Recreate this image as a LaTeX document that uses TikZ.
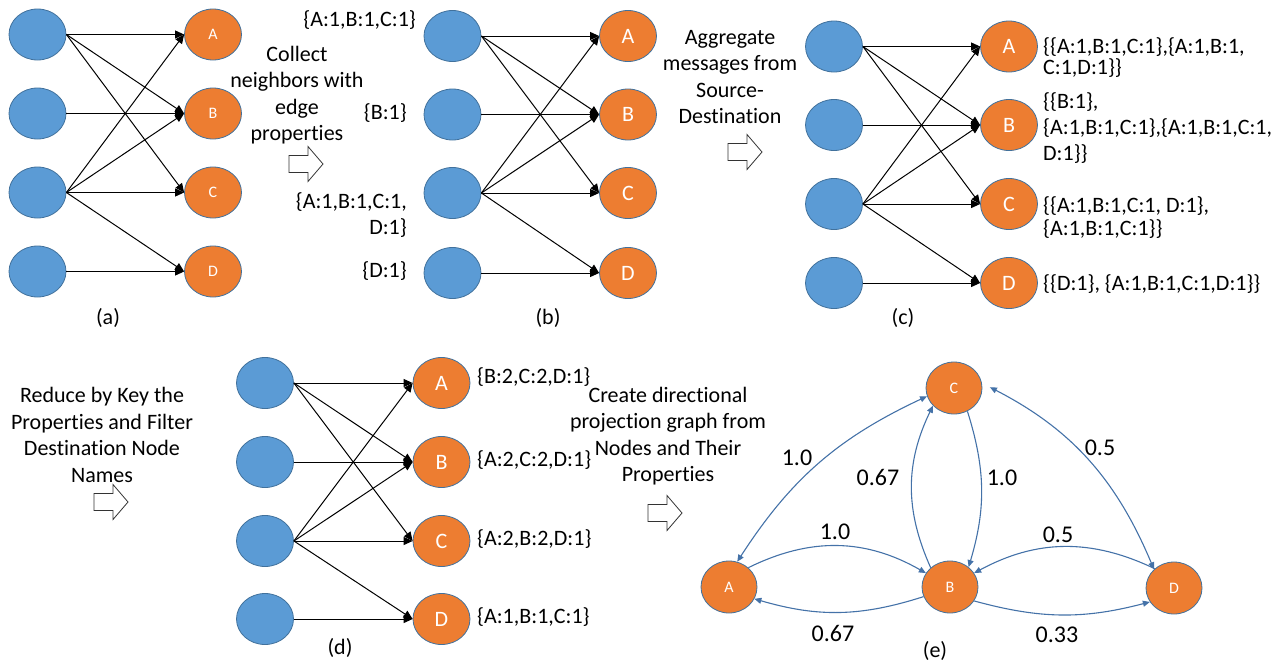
\documentclass[tikz,border=0pt]{standalone}
\usepackage{fontspec}
\setmainfont{Carlito}[Ligatures=NoCommon]
\usetikzlibrary{arrows.meta,shapes.geometric}

\definecolor{nblue}{RGB}{91,155,213}
\definecolor{norange}{RGB}{237,125,49}
\definecolor{nedge}{RGB}{65,113,156}
\definecolor{pblue}{RGB}{68,114,168}

\tikzset{
  srcnode/.style={ellipse, fill=nblue, draw=nedge, line width=0.8pt,
    minimum width=57pt, minimum height=51pt, inner sep=0pt},
  dstnode/.style={ellipse, fill=norange, draw=nedge, line width=0.8pt,
    minimum width=57pt, minimum height=51pt, inner sep=0pt, text=white},
  smallltr/.style={font=\fontsize{16}{16}\selectfont},
  bigltr/.style={font=\fontsize{22}{22}\selectfont},
  flow/.style={draw=black, line width=1pt, -{Triangle[length=9pt,width=8pt]}},
  pedge/.style={draw=pblue, line width=1.1pt, >={Triangle[length=7pt,width=6pt]}},
  txt/.style={inner sep=0pt, font=\fontsize{22}{26.5}\selectfont},
  wlabel/.style={inner sep=0pt, font=\fontsize{24}{24}\selectfont},
  arrowline/.style={draw=black!80, fill=white, line width=0.8pt},
  hollowarrow/.pic={\draw[arrowline] (0,-8.5) -- (19,-8.5) -- (19,-17.5)
    -- (34,0) -- (19,17.5) -- (19,8.5) -- (0,8.5) -- cycle;}
}

% one bipartite panel: prefix, source x, target x, letter style, four row ys
\newcommand\bipanel[8]{%
  \node[srcnode] (#1s1) at (#2,#5) {};
  \node[srcnode] (#1s2) at (#2,#6) {};
  \node[srcnode] (#1s3) at (#2,#7) {};
  \node[srcnode] (#1s4) at (#2,#8) {};
  \node[dstnode,#4] (#1A) at (#3,#5) {A};
  \node[dstnode,#4] (#1B) at (#3,#6) {B};
  \node[dstnode,#4] (#1C) at (#3,#7) {C};
  \node[dstnode,#4] (#1D) at (#3,#8) {D};
  \foreach \src/\tgt in {1/A,1/B,1/C,2/B,3/A,3/B,3/C,3/D,4/D}
    \draw[flow] (#1s\src.east) -- (#1\tgt.west);
}

\begin{document}
\begin{tikzpicture}[x=1pt,y=-1pt]
\useasboundingbox (0,0) rectangle (1276,664);

% (a)
\bipanel{a}{37.5}{213}{smallltr}{34.5}{113.5}{192.5}{271.5}
\node[txt] (capa) at (108,318) {(a)};

% (b)
\node[txt, anchor=east] (lbA) at (416,20) {\{A:1,B:1,C:1\}};
\node[txt, align=center] (stepb) at (297,95) {Collect\\neighbors with\\edge\\properties};
\pic at (289,164) {hollowarrow};
\node[txt, anchor=east] (lbB) at (407,113) {\{B:1\}};
\node[txt, anchor=east, align=right] (lbC) at (407,215) {\{A:1,B:1,C:1,\\D:1\}};
\node[txt, anchor=east] (lbD) at (407,271) {\{D:1\}};
\bipanel{b}{452.5}{628}{bigltr}{36}{114.5}{193}{273}
\node[txt] (capb) at (548,318) {(b)};

% (c)
\node[txt, align=center] (stepc) at (730,77) {Aggregate\\messages from\\Source-\\Destination};
\pic at (728,152) {hollowarrow};
\bipanel{c}{834}{1009}{bigltr}{46.5}{125}{204}{283}
\node[txt, anchor=west, align=left, font=\fontsize{22}{21.5}\selectfont] (lcA) at (1043,57.5)
  {\{\{A:1,B:1,C:1\},\{A:1,B:1,\\C:1,D:1\}\}};
\node[txt, anchor=west, align=left, font=\fontsize{22}{26}\selectfont] (lcB) at (1043,128)
  {\{\{B:1\},\\\{A:1,B:1,C:1\},\{A:1,B:1,C:1,\\D:1\}\}};
\node[txt, anchor=west, align=left, font=\fontsize{22}{23}\selectfont] (lcC) at (1043,217.5)
  {\{\{A:1,B:1,C:1, D:1\},\\\{A:1,B:1,C:1\}\}};
\node[txt, anchor=west] (lcD) at (1043,284) {\{\{D:1\}, \{A:1,B:1,C:1,D:1\}\}};
\node[txt] (capc) at (903,318) {(c)};

% (d)
\node[txt, align=center] (stepd) at (102,435) {Reduce by Key the\\Properties and Filter\\Destination Node\\Names};
\pic at (94,502) {hollowarrow};
\bipanel{d}{265}{441.5}{bigltr}{383}{462}{541}{619}
\node[txt, anchor=west] (ldA) at (477,377) {\{B:2,C:2,D:1\}};
\node[txt, anchor=west] (ldB) at (477,460) {\{A:2,C:2,D:1\}};
\node[txt, anchor=west] (ldC) at (477,539) {\{A:2,B:2,D:1\}};
\node[txt, anchor=west] (ldD) at (477,617) {\{A:1,B:1,C:1\}};
\node[txt] (capd) at (340,648) {(d)};

% (e) projection graph
\node[txt, align=center] (stepe) at (668,436) {Create directional\\projection graph from\\Nodes and Their\\Properties};
\pic at (648,513) {hollowarrow};
\node[dstnode, smallltr, minimum width=56pt, minimum height=52pt] (eC) at (954,388) {C};
\node[dstnode, smallltr, minimum width=56pt, minimum height=52pt] (eA) at (729,587) {A};
\node[dstnode, smallltr, minimum width=56pt, minimum height=52pt] (eB) at (950,587) {B};
\node[dstnode, smallltr, minimum width=56pt, minimum height=52pt] (eD) at (1174,588) {D};

\draw[pedge,<->] (eA.72) to[bend left=16] (eC.197) node[wlabel] at (797,458) {1.0};
\draw[pedge,->] (eB.135) to[bend left=25] (eC.220) node[wlabel] at (878,477) {0.67};
\draw[pedge,->] (eC.300) to[bend left=17] (eB.47) node[wlabel] at (1002,478) {1.0};
\draw[pedge,<->, shorten <=9pt] (eC.10) to[bend left=20] (eD.137) node[wlabel] at (1100,448) {0.5};
\draw[pedge,->] (eA.45) to[bend left=28] (eB.150) node[wlabel] at (835,532) {1.0};
\draw[pedge,->] (eD.135) to[bend right=27] (eB.30) node[wlabel] at (1058,535) {0.5};
\draw[pedge,->] (eB.200) to[bend left=17] (eA.-25) node[wlabel] at (833,633) {0.67};
\draw[pedge,->] (eB.-30) to[bend right=15] (eD.210) node[wlabel] at (1057,635) {0.33};
\node[txt] (cape) at (935,651) {(e)};
\end{tikzpicture}
\end{document}
